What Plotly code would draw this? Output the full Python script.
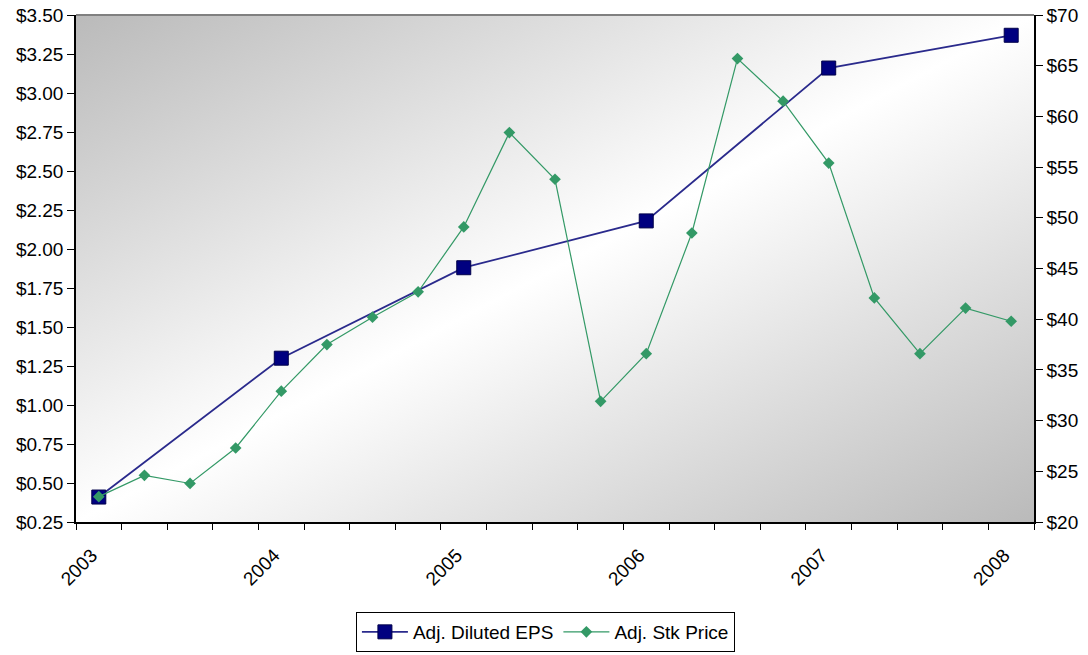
import base64
import plotly.graph_objects as go

# ---------------- data ----------------
periods = [
    "2003 Q1", "2003 Q2", "2003 Q3", "2003 Q4",
    "2004 Q1", "2004 Q2", "2004 Q3", "2004 Q4",
    "2005 Q1", "2005 Q2", "2005 Q3", "2005 Q4",
    "2006 Q1", "2006 Q2", "2006 Q3", "2006 Q4",
    "2007 Q1", "2007 Q2", "2007 Q3", "2007 Q4",
    "2008 Q1",
]
stock_price = [22.5, 24.6, 23.8, 27.3, 32.9, 37.5, 40.2, 42.7, 49.1, 58.4, 53.8,
               31.9, 36.6, 48.5, 65.7, 61.5, 55.4, 42.1, 36.6, 41.1, 39.8]

eps_periods = ["2003 Q1", "2004 Q1", "2005 Q1", "2006 Q1", "2007 Q1", "2008 Q1"]
eps_values = [0.41, 1.30, 1.88, 2.18, 3.16, 3.37]

year_labels = ["2003", "2004", "2005", "2006", "2007", "2008"]

series_names = ["Adj. Diluted EPS", "Adj. Stk Price"]

# ---------------- figure ----------------
pos = {p: i for i, p in enumerate(periods)}
FONT = "Liberation Sans, Arial, sans-serif"

fig = go.Figure()
fig.add_trace(go.Scatter(
    x=[pos[p] for p in eps_periods], y=eps_values,
    name=series_names[0], mode="lines+markers",
    line=dict(color="#2a2a8c", width=1.8),
    marker=dict(symbol="square", size=14, color="#000080",
                line=dict(color="#00004a", width=1)),
))
fig.add_trace(go.Scatter(
    x=[pos[p] for p in periods], y=stock_price, yaxis="y2",
    name=series_names[1], mode="lines+markers",
    line=dict(color="#339966", width=1.2),
    marker=dict(symbol="diamond", size=9, color="#339966"),
))

svg = ('<svg xmlns="http://www.w3.org/2000/svg" width="958" height="507" '
       'viewBox="0 0 958 507" preserveAspectRatio="none"><defs>'
       '<linearGradient id="g" x1="0" y1="0" x2="1" y2="1">'
       '<stop offset="0" stop-color="#bababa"/>'
       '<stop offset="0.5" stop-color="#ffffff"/>'
       '<stop offset="1" stop-color="#bababa"/>'
       '</linearGradient></defs>'
       '<rect width="958" height="507" fill="url(#g)"/></svg>')
bg_src = "data:image/svg+xml;base64," + base64.b64encode(svg.encode()).decode()

axis_common = dict(showgrid=False, zeroline=False, showline=True, automargin=False,
                   linecolor="black", linewidth=1.5,
                   tickfont=dict(family=FONT, size=19, color="black"))

fig.update_layout(
    width=1088, height=655,
    margin=dict(l=76, r=54, t=15, b=133, autoexpand=False),
    paper_bgcolor="white", plot_bgcolor="rgba(0,0,0,0)",
    font=dict(family=FONT, size=19, color="black"),
    showlegend=True,
    legend=dict(orientation="h", x=0.49, xanchor="center",
                yref="container", y=1 - 612 / 655, yanchor="top",
                bordercolor="black", borderwidth=1, bgcolor="white",
                font=dict(family=FONT, size=19, color="black"),
                itemwidth=46, tracegroupgap=0),
    xaxis=dict(
        range=[-0.5, len(periods) - 0.5],
        tickmode="array",
        tickvals=[pos[p] for p in eps_periods],
        ticktext=year_labels,
        tickangle=-45,
        ticks="outside", ticklen=13, tickcolor="rgba(0,0,0,0)",
        ticklabelshift=-7,
        minor=dict(tickmode="array",
                   tickvals=[i - 0.5 for i in range(len(periods) + 1)],
                   ticks="outside", ticklen=6, tickwidth=1.3, tickcolor="black"),
        **axis_common,
    ),
    yaxis=dict(
        range=[0.25, 3.5], tick0=0.25, dtick=0.25,
        tickprefix="$", tickformat=".2f",
        ticks="outside", ticklen=7, tickwidth=1.3, tickcolor="black",
        **axis_common,
    ),
    yaxis2=dict(
        range=[20, 70], tick0=20, dtick=5,
        tickprefix="$", tickformat="d",
        overlaying="y", side="right",
        ticks="outside", ticklen=7, tickwidth=1.3, tickcolor="black",
        **axis_common,
    ),
    images=[dict(source=bg_src, xref="paper", yref="paper", x=0, y=1,
                 sizex=1, sizey=1, xanchor="left", yanchor="top",
                 sizing="stretch", layer="below")],
    shapes=[dict(type="line", xref="paper", yref="paper", x0=0, x1=1, y0=1, y1=1,
                 line=dict(color="#808080", width=2))],
)

fig.write_html("out.html", config={"displayModeBar": False},
               post_script="document.body.style.margin='0';document.body.style.overflow='hidden';")
